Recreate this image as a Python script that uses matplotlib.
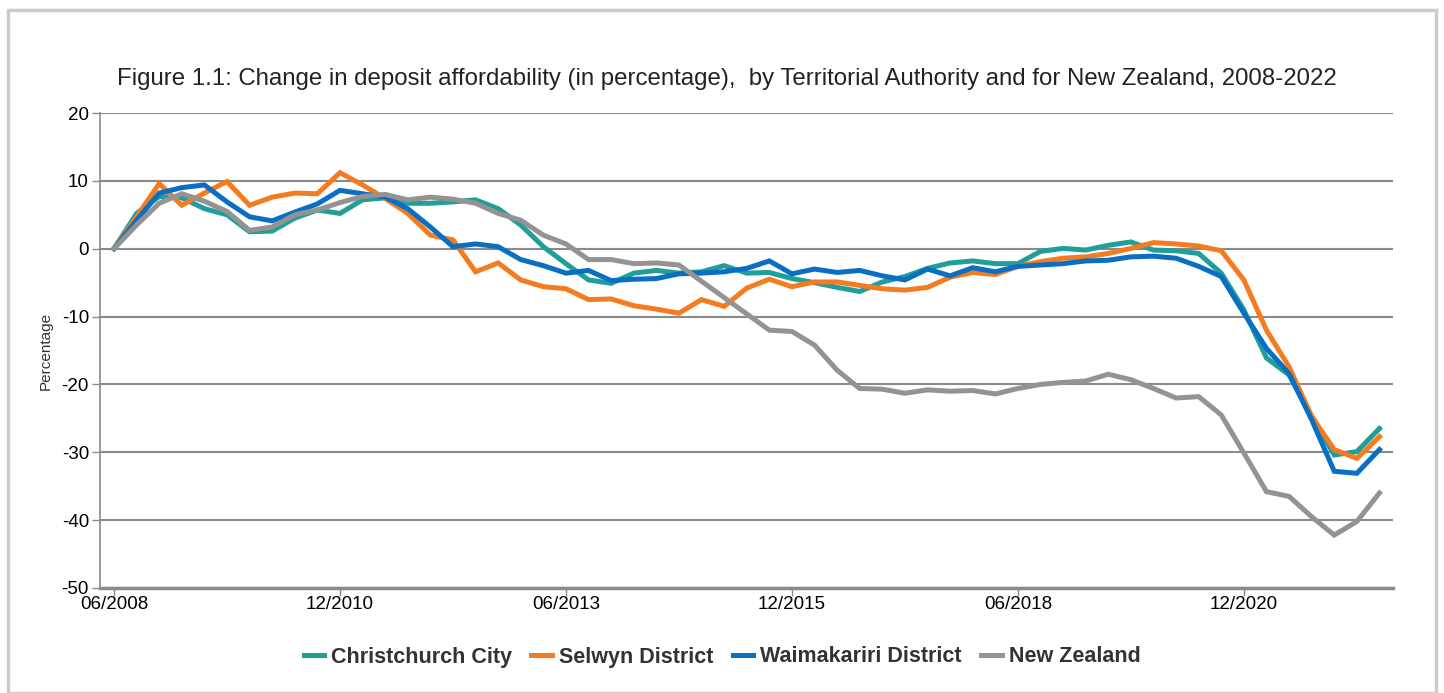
import numpy as np
import pandas as pd
import matplotlib
matplotlib.use("Agg")
from matplotlib import pyplot as plt
from matplotlib.patches import Rectangle

# quarterly, 06/2008 .. 06/2022
quarters = pd.period_range("2008Q2", "2022Q2", freq="Q")
tick_labels = ["06/2008", "12/2010", "06/2013", "12/2015", "06/2018", "12/2020"]

christchurch = [0, 5.2, 7.7, 7.5, 5.9, 5.0, 2.5, 2.6, 4.5, 5.7,
                5.2, 7.2, 7.5, 6.7, 6.7, 6.9, 7.2, 5.9, 3.5, 0.3,
                -2.2, -4.6, -5.1, -3.6, -3.2, -3.6, -3.4, -2.5, -3.6, -3.5,
                -4.4, -5.0, -5.7, -6.3, -4.9, -4.1, -2.9, -2.1, -1.8, -2.2,
                -2.2, -0.4, 0.05, -0.2, 0.5, 1.0, -0.2, -0.3, -0.7, -3.6,
                -9.0, -16.1, -18.6, -24.7, -30.4, -29.9, -26.5]
selwyn = [0, 4.7, 9.6, 6.4, 8.2, 9.9, 6.4, 7.6, 8.2, 8.1,
          11.2, 9.4, 7.4, 5.2, 2.0, 1.3, -3.4, -2.1, -4.6, -5.6,
          -5.9, -7.5, -7.4, -8.4, -8.9, -9.5, -7.5, -8.5, -5.8, -4.5,
          -5.6, -4.9, -4.9, -5.4, -5.9, -6.1, -5.7, -4.2, -3.5, -3.8,
          -2.6, -1.9, -1.4, -1.2, -0.7, 0.05, 0.9, 0.7, 0.4, -0.3,
          -4.6, -12.0, -17.4, -24.7, -29.6, -30.9, -27.7]
waimakariri = [0, 4.2, 8.2, 9.0, 9.4, 6.9, 4.7, 4.1, 5.4, 6.6,
               8.6, 8.1, 7.6, 5.9, 3.2, 0.3, 0.7, 0.3, -1.6, -2.5,
               -3.6, -3.2, -4.7, -4.5, -4.4, -3.7, -3.6, -3.4, -2.9, -1.8,
               -3.7, -3.0, -3.5, -3.2, -4.0, -4.6, -3.0, -4.0, -2.8, -3.4,
               -2.6, -2.4, -2.2, -1.8, -1.7, -1.2, -1.1, -1.4, -2.6, -4.1,
               -9.5, -14.7, -18.4, -25.2, -32.8, -33.1, -29.6]
new_zealand = [0, 3.5, 6.7, 8.1, 7.0, 5.5, 2.7, 3.2, 5.0, 5.7,
               6.8, 7.7, 8.0, 7.2, 7.6, 7.3, 6.7, 5.2, 4.2, 2.0,
               0.7, -1.6, -1.6, -2.2, -2.1, -2.4, -4.8, -7.2, -9.6, -12.0,
               -12.2, -14.2, -17.9, -20.6, -20.7, -21.3, -20.8, -21.0, -20.9, -21.4,
               -20.6, -20.0, -19.7, -19.5, -18.5, -19.3, -20.6, -22.0, -21.8, -24.5,
               -30.1, -35.8, -36.5, -39.5, -42.2, -40.2, -36.0]

series = [("Christchurch City", christchurch, "#1f9e9a"),
          ("Selwyn District", selwyn, "#f47c20"),
          ("Waimakariri District", waimakariri, "#0a6fc2"),
          ("New Zealand", new_zealand, "#939393")]

plt.rcParams["font.family"] = ["Liberation Sans", "DejaVu Sans"]
plt.rcParams["axes.unicode_minus"] = False

fig = plt.figure(figsize=(14.44, 6.93), dpi=100)
ax = fig.add_axes([100 / 1444, 1 - 588 / 693, 1293 / 1444, 475 / 693])

# light frame round the whole chart
fig.patches.append(Rectangle((8 / 1444, 0), 1428 / 1444, 1 - 10 / 693,
                             transform=fig.transFigure, fill=False,
                             edgecolor="#cccccc", linewidth=2.5))

x = np.arange(len(quarters))
for name, vals, col in series:
    ax.plot(x, vals, color=col, linewidth=3.6, label=name, solid_joinstyle="miter")

ax.set_xlim(-0.62, 56.6)
ax.set_ylim(-50, 20)
ax.set_yticks(range(-50, 21, 10))
ax.set_xticks(range(0, 51, 10))
ax.set_xticklabels(tick_labels)
ax.yaxis.grid(True, color="#8a8a8a", linewidth=1.5)
ax.set_axisbelow(True)

for s in ["top", "right"]:
    ax.spines[s].set_visible(False)
ax.spines["left"].set_color("#8a8a8a")
ax.spines["left"].set_linewidth(1.2)
ax.spines["bottom"].set_color("#8a8a8a")
ax.spines["bottom"].set_linewidth(2.5)
ax.tick_params(axis="y", length=6, width=1, color="#8a8a8a", labelsize=13.5, pad=2)
ax.tick_params(axis="x", length=6, width=1, color="#8a8a8a", labelsize=13.5, pad=0)

ax.set_ylabel("Percentage", fontsize=11, color="#333333", labelpad=6)
fig.text(0.5035, 1 - 79 / 693, "Figure 1.1: Change in deposit affordability (in percentage),  by Territorial Authority and for New Zealand, 2008-2022",
         ha="center", va="center", fontsize=17.3, color="#222222")

leg = fig.legend(loc="center", bbox_to_anchor=(0.5, 1 - 657 / 693), ncol=4, frameon=False,
                 handlelength=0.95, handletextpad=0.33, columnspacing=0.9,
                 prop={"size": 15.5, "weight": "bold"})
for t in leg.get_texts():
    t.set_color("#333333")

plt.savefig("out.png", dpi=100)
